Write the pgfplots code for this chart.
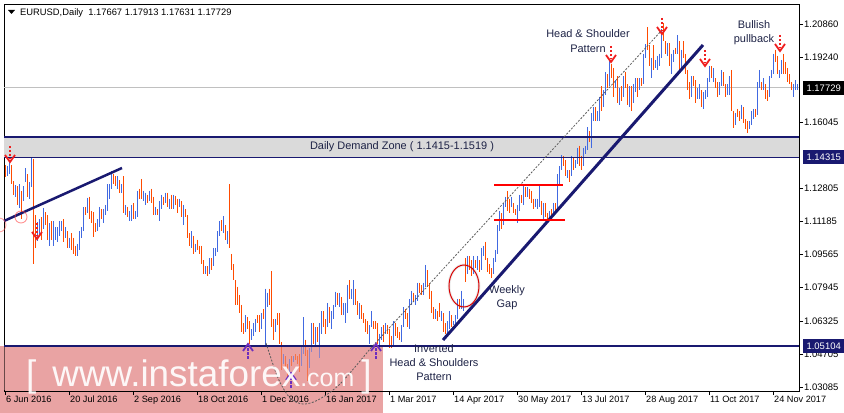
\documentclass[border=0pt]{standalone}
\usepackage{fontspec}
\setmainfont{Liberation Sans}
\usepackage{pgfplots}
\usepackage{pgfplotstable}
\pgfplotsset{compat=1.18}
\definecolor{upc}{RGB}{65,105,225}
\definecolor{dnc}{RGB}{255,75,0}
\definecolor{navy}{RGB}{25,25,112}
\definecolor{zonegray}{RGB}{218,218,218}
\definecolor{pinkw}{RGB}{233,163,163}
\definecolor{arrred}{RGB}{240,30,30}
\definecolor{purp}{RGB}{110,45,190}
\definecolor{annot}{RGB}{30,35,70}
\definecolor{pricegray}{RGB}{192,192,192}
\definecolor{dashg}{RGB}{90,90,90}

\pgfplotstableread{
x h l
1 1.1392 1.1340
2 1.1416 1.1350
5 1.1297 1.1239
7 1.1300 1.1186
9 1.1290 1.1220
10 1.1380 1.1310
12 1.1310 1.1230
13 1.1427 1.1285
16 1.1115 1.1025
17 1.1130 1.1050
19 1.1185 1.1080
22 1.1110 1.1000
24 1.1120 1.1000
25 1.1090 1.1030
26 1.1090 1.1020
27 1.1120 1.1050
28 1.1120 1.1070
30 1.1090 1.1040
32 1.1040 1.0990
36 1.1010 1.0950
37 1.1070 1.0980
38 1.1090 1.1040
39 1.1190 1.1070
41 1.1235 1.1160
46 1.1130 1.1070
47 1.1190 1.1090
49 1.1180 1.1110
50 1.1200 1.1150
51 1.1300 1.1170
52 1.1300 1.1230
53 1.1366 1.1280
56 1.1340 1.1280
58 1.1300 1.1260
60 1.1200 1.1150
62 1.1170 1.1120
63 1.1200 1.1120
65 1.1170 1.1130
66 1.1270 1.1140
69 1.1270 1.1220
70 1.1260 1.1200
72 1.1270 1.1220
75 1.1190 1.1150
77 1.1220 1.1120
78 1.1250 1.1180
80 1.1260 1.1210
82 1.1230 1.1180
84 1.1250 1.1180
87 1.1230 1.1190
89 1.1200 1.1100
93 1.1070 1.0990
95 1.1010 1.0970
100 1.0900 1.0860
102 1.0940 1.0860
104 1.0990 1.0900
105 1.0990 1.0950
106 1.1070 1.0970
107 1.1120 1.1050
109 1.1145 1.1060
111 1.1070 1.1010
120 1.0660 1.0580
123 1.0590 1.0540
124 1.0620 1.0560
125 1.0640 1.0580
128 1.0670 1.0590
130 1.0790 1.0505
131 1.0770 1.0700
135 1.0640 1.0580
139 1.0470 1.0420
142 1.0445 1.0380
144 1.0460 1.0430
148 1.0510 1.0410
149 1.0650 1.0470
152 1.0500 1.0400
153 1.0620 1.0480
155 1.0600 1.0510
157 1.0620 1.0450
158 1.0680 1.0570
161 1.0720 1.0600
163 1.0680 1.0590
164 1.0710 1.0640
165 1.0775 1.0700
167 1.0770 1.0700
169 1.0720 1.0660
170 1.0720 1.0620
171 1.0810 1.0670
173 1.0790 1.0740
174 1.0830 1.0710
177 1.0720 1.0640
182 1.0610 1.0520
183 1.0680 1.0600
187 1.0570 1.0495
188 1.0600 1.0540
190 1.0620 1.0570
194 1.0630 1.0510
198 1.0610 1.0530
199 1.0700 1.0600
202 1.0740 1.0590
203 1.0780 1.0710
205 1.0760 1.0710
206 1.0820 1.0730
209 1.0820 1.0760
210 1.0906 1.0800
215 1.0690 1.0640
218 1.0680 1.0630
221 1.0630 1.0570
222 1.0680 1.0590
224 1.0630 1.0610
225 1.0660 1.0600
226 1.0740 1.0640
228 1.0780 1.0690
229 1.0740 1.0680
231 1.0950 1.0860
234 1.0950 1.0860
236 1.0950 1.0880
238 1.0990 1.0880
239 1.1000 1.0950
244 1.0940 1.0860
245 1.0980 1.0920
246 1.1100 1.0960
247 1.1170 1.1070
249 1.1210 1.1100
250 1.1240 1.1190
253 1.1240 1.1190
256 1.1200 1.1110
257 1.1250 1.1170
259 1.1290 1.1200
261 1.1285 1.1240
265 1.1230 1.1190
266 1.1230 1.1180
267 1.1296 1.1190
269 1.1210 1.1130
272 1.1170 1.1120
274 1.1210 1.1150
276 1.1350 1.1180
277 1.1390 1.1300
278 1.1445 1.1370
281 1.1370 1.1330
283 1.1440 1.1340
285 1.1420 1.1380
286 1.1480 1.1400
289 1.1480 1.1390
290 1.1490 1.1450
291 1.1580 1.1470
293 1.1650 1.1480
294 1.1680 1.1610
296 1.1660 1.1610
297 1.1730 1.1610
299 1.1760 1.1680
300 1.1850 1.1740
302 1.1910 1.1780
305 1.1810 1.1770
307 1.1770 1.1690
309 1.1830 1.1730
312 1.1780 1.1680
314 1.1790 1.1700
315 1.1820 1.1750
317 1.1820 1.1760
319 1.1940 1.1790
320 1.1985 1.1920
323 1.1920 1.1820
325 1.1910 1.1870
326 1.1930 1.1860
327 1.1940 1.1880
328 1.2060 1.1920
331 1.1990 1.1930
333 1.1940 1.1840
334 1.1960 1.1900
336 1.2030 1.1940
338 1.1960 1.1870
343 1.1830 1.1730
346 1.1770 1.1720
347 1.1790 1.1720
349 1.1750 1.1670
350 1.1760 1.1720
351 1.1820 1.1730
352 1.1880 1.1800
354 1.1870 1.1800
357 1.1800 1.1740
358 1.1860 1.1780
361 1.1790 1.1740
362 1.1830 1.1740
365 1.1650 1.1590
368 1.1690 1.1620
372 1.1610 1.1570
373 1.1660 1.1590
374 1.1670 1.1620
376 1.1800 1.1640
377 1.1860 1.1770
379 1.1820 1.1760
382 1.1830 1.1730
383 1.1860 1.1820
384 1.1940 1.1840
387 1.1860 1.1820
388 1.1910 1.1840
394 1.1790 1.1730
395 1.1810 1.1760
396 1.1791 1.1763
}\upbars

\pgfplotstableread{
x h l
0 1.1394 1.1336
3 1.1395 1.1300
4 1.1315 1.1250
6 1.1290 1.1200
8 1.1270 1.1130
11 1.1350 1.1240
14 1.1425 1.0912
15 1.1150 1.0990
18 1.1140 1.1030
20 1.1165 1.1100
21 1.1150 1.1030
23 1.1120 1.1030
29 1.1130 1.1020
31 1.1070 1.0990
33 1.1060 1.0980
34 1.1040 1.0960
35 1.1000 1.0952
40 1.1190 1.1150
42 1.1240 1.1130
43 1.1170 1.1110
44 1.1165 1.1045
45 1.1110 1.1065
48 1.1180 1.1130
54 1.1350 1.1300
55 1.1340 1.1290
57 1.1320 1.1260
59 1.1340 1.1160
61 1.1190 1.1140
64 1.1210 1.1130
67 1.1280 1.1230
68 1.1327 1.1230
71 1.1250 1.1210
73 1.1280 1.1210
74 1.1240 1.1150
76 1.1180 1.1150
79 1.1240 1.1200
81 1.1260 1.1190
83 1.1250 1.1180
85 1.1245 1.1200
86 1.1230 1.1160
88 1.1220 1.1140
90 1.1180 1.1140
91 1.1150 1.1040
92 1.1060 1.1000
94 1.1050 1.0960
96 1.1030 1.0980
97 1.1000 1.0960
98 1.1000 1.0910
99 1.0930 1.0860
101 1.0900 1.0852
103 1.0940 1.0880
108 1.1125 1.1070
110 1.1100 1.1030
112 1.1300 1.0990
113 1.0960 1.0880
114 1.0910 1.0830
115 1.0830 1.0710
116 1.0800 1.0710
117 1.0760 1.0670
118 1.0710 1.0580
119 1.0620 1.0570
121 1.0650 1.0590
122 1.0630 1.0518
126 1.0660 1.0620
127 1.0660 1.0580
129 1.0690 1.0640
132 1.0790 1.0710
133 1.0874 1.0600
134 1.0640 1.0540
136 1.0670 1.0610
137 1.0670 1.0520
138 1.0530 1.0390
140 1.0460 1.0390
141 1.0420 1.0352
143 1.0460 1.0410
145 1.0470 1.0440
146 1.0460 1.0420
147 1.0470 1.0380
150 1.0540 1.0460
151 1.0490 1.0340
154 1.0620 1.0520
156 1.0600 1.0530
159 1.0680 1.0600
160 1.0640 1.0570
162 1.0700 1.0620
166 1.0770 1.0710
168 1.0750 1.0660
172 1.0830 1.0740
175 1.0790 1.0710
176 1.0730 1.0660
178 1.0710 1.0640
179 1.0670 1.0620
180 1.0640 1.0580
181 1.0630 1.0570
184 1.0630 1.0590
185 1.0630 1.0590
186 1.0620 1.0520
189 1.0610 1.0530
191 1.0610 1.0570
192 1.0590 1.0500
193 1.0560 1.0500
195 1.0620 1.0560
196 1.0600 1.0550
197 1.0580 1.0540
200 1.0690 1.0640
201 1.0670 1.0600
204 1.0770 1.0730
207 1.0820 1.0770
208 1.0810 1.0760
211 1.0880 1.0800
212 1.0820 1.0740
213 1.0780 1.0670
214 1.0700 1.0640
216 1.0680 1.0630
217 1.0720 1.0650
219 1.0670 1.0580
220 1.0620 1.0570
223 1.0660 1.0600
227 1.0740 1.0690
230 1.0940 1.0821
232 1.0950 1.0880
233 1.0930 1.0850
235 1.0930 1.0890
237 1.0930 1.0870
240 1.1020 1.0930
241 1.0940 1.0870
242 1.0910 1.0860
243 1.0890 1.0840
248 1.1160 1.1080
251 1.1268 1.1170
252 1.1230 1.1160
254 1.1210 1.1160
255 1.1180 1.1150
258 1.1250 1.1210
260 1.1285 1.1240
262 1.1280 1.1230
263 1.1270 1.1210
264 1.1230 1.1180
268 1.1220 1.1150
270 1.1210 1.1140
271 1.1160 1.1119
273 1.1180 1.1140
275 1.1210 1.1160
279 1.1440 1.1390
280 1.1420 1.1340
282 1.1370 1.1310
284 1.1430 1.1370
287 1.1490 1.1390
288 1.1440 1.1370
292 1.1560 1.1510
295 1.1680 1.1610
298 1.1780 1.1660
301 1.1840 1.1770
303 1.1890 1.1820
304 1.1870 1.1730
306 1.1830 1.1700
308 1.1780 1.1710
310 1.1850 1.1770
311 1.1790 1.1690
313 1.1780 1.1660
316 1.1820 1.1730
318 1.1820 1.1780
321 1.2070 1.1960
322 1.1980 1.1880
324 1.1980 1.1860
329 1.2092 1.2000
330 1.2000 1.1940
332 1.1990 1.1880
335 1.1970 1.1940
337 1.2000 1.1860
339 1.2000 1.1920
340 1.1940 1.1840
341 1.1860 1.1760
342 1.1800 1.1720
344 1.1830 1.1780
345 1.1810 1.1700
348 1.1760 1.1680
353 1.1880 1.1820
355 1.1820 1.1770
356 1.1800 1.1730
359 1.1850 1.1780
360 1.1790 1.1730
363 1.1860 1.1660
364 1.1660 1.1575
366 1.1670 1.1630
367 1.1660 1.1610
369 1.1680 1.1600
370 1.1620 1.1570
371 1.1610 1.1553
375 1.1670 1.1630
378 1.1800 1.1760
380 1.1790 1.1720
381 1.1760 1.1710
385 1.1960 1.1900
386 1.1930 1.1840
389 1.1940 1.1840
390 1.1900 1.1840
391 1.1870 1.1800
392 1.1840 1.1790
393 1.1800 1.1760
}\dnbars

\newcommand{\dnarrow}[2]{%
  \draw[arrred, line width=1.8bp, dash pattern=on 2.5bp off 1.5bp] (#1,#2-17) -- (#1,#2-4);
  \draw[arrred, line width=1.8bp, line join=miter] (#1-5,#2-8) -- (#1,#2-1) -- (#1+5,#2-8);
}
\newcommand{\uparrowp}[2]{%
  \draw[purp, line width=1.8bp, dash pattern=on 2.5bp off 1.5bp] (#1,#2+16) -- (#1,#2+4);
  \draw[purp, line width=1.8bp, line join=miter] (#1-5,#2+8) -- (#1,#2+1) -- (#1+5,#2+8);
}

\begin{document}
\begin{tikzpicture}
\useasboundingbox (0,0) rectangle (844bp,413bp);
\begin{scope}[x=1bp,y=-1bp,shift={(0bp,413bp)}]
  \fill[pinkw] (0,346) rectangle (383,413);
\end{scope}
\begin{axis}[
  at={(4bp,22bp)}, anchor=south west,
  width=795bp, height=387bp, scale only axis,
  xmin=-0.5, xmax=397, ymin=1.0289, ymax=1.2183,
  axis line style={black, line width=0.8bp},
  tick align=outside, major tick length=4bp,
  tick style={black, line width=0.6bp},
  xtick={0,32,...,384},
  xticklabels={6 Jun 2016,20 Jul 2016,2 Sep 2016,18 Oct 2016,1 Dec 2016,16 Jan 2017,1 Mar 2017,14 Apr 2017,30 May 2017,13 Jul 2017,28 Aug 2017,11 Oct 2017,24 Nov 2017},
  xtick pos=left,
  ytick={1.03085,1.04705,1.06325,1.07945,1.09565,1.11185,1.12805,1.16045,1.19240,1.20860},
  yticklabels={1.03085,1.04705,1.06325,1.07945,1.09565,1.11185,1.12805,1.16045,1.19240,1.20860},
  ytick pos=right, yticklabel pos=right,
  xticklabel style={font=\fontsize{9.2}{10}\selectfont, anchor=north west, inner sep=1bp},
  yticklabel style={font=\fontsize{9.5}{10}\selectfont, anchor=west, inner sep=1bp},
  clip=false,
]
\fill[zonegray] (axis cs:-0.5,1.14315) rectangle (axis cs:397,1.1530);
\draw[pricegray, line width=0.8bp] (axis cs:-0.5,1.17729) -- (axis cs:397,1.17729);
\addplot[forget plot, draw=none, mark=none,
  error bars/.cd, y dir=minus, y explicit, error mark=none,
  error bar style={draw=upc, line width=1bp, solid}]
  table[x=x, y=h, y error minus expr=\thisrow{h}-\thisrow{l}] {\upbars};
\addplot[forget plot, draw=none, mark=none,
  error bars/.cd, y dir=minus, y explicit, error mark=none,
  error bar style={draw=dnc, line width=1bp, solid}]
  table[x=x, y=h, y error minus expr=\thisrow{h}-\thisrow{l}] {\dnbars};
\draw[navy, line width=2bp] (axis cs:-0.5,1.1530) -- (axis cs:397,1.1530);
\draw[navy, line width=1.5bp] (axis cs:-0.5,1.14315) -- (axis cs:397,1.14315);
\draw[navy, line width=2bp] (axis cs:-0.5,1.05104) -- (axis cs:397,1.05104);
\end{axis}

\begin{scope}[x=1bp,y=-1bp,shift={(0bp,413bp)}]
  \fill[pinkw, opacity=0.45] (4.5,347) rectangle (383,390.5);
  \draw[navy, line width=2.5bp] (4,221) -- (122,168);
  \draw[navy, line width=3bp] (443,340) -- (703,45);
  \draw[dashg, line width=0.8bp, dash pattern=on 2bp off 1.5bp]
     plot[smooth] coordinates {(266,343) (278,378) (290,398) (303,404) (318,400) (340,384) (370,349)} -- (662,30);
  \draw[red, line width=1.3bp] (494,185) -- (563,185);
  \draw[red, line width=1.3bp] (494,220) -- (565,220);
  \draw[red!70, line width=0.9bp, opacity=0.6] (21,217) circle (6);
  \draw[red!70, line width=0.9bp, opacity=0.5] (-1,225) circle (7);
  \draw[gray, line width=3bp, opacity=0.15] (464,286) ellipse (15 and 21);
  \draw[red!85!black, line width=1bp] (464,286) ellipse (15 and 21);
  \dnarrow{10}{163}
  \dnarrow{37}{240}
  \dnarrow{611}{63}
  \dnarrow{662}{35}
  \dnarrow{705}{67}
  \dnarrow{780}{52}
  \uparrowp{248}{343}
  \uparrowp{291}{372}
  \uparrowp{376}{343}
  \node[text=annot, font=\fontsize{11}{14}\selectfont, align=center] at (402,147) {Daily Demand Zone ( 1.1415-1.1519 )};
  \node[text=annot, font=\fontsize{11}{15}\selectfont, align=center] at (588,41) {Head \& Shoulder\\Pattern};
  \node[text=annot, font=\fontsize{11}{14}\selectfont, align=center] at (754,33) {Bullish\\pullback};
  \node[text=annot, font=\fontsize{11}{14}\selectfont, align=center] at (507,298) {Weekly\\Gap};
  \node[text=annot, font=\fontsize{11}{14}\selectfont, align=center] at (434,363) {Inverted\\Head \& Shoulders\\Pattern};
  \node[anchor=base west, inner sep=0, text=white, opacity=0.92] at (26,387)
    {\fontsize{37}{37}\selectfont [\hspace{16bp}www.instaforex{\fontsize{25}{25}\selectfont .com}\hspace{7bp}]};
  \node[fill=black, text=white, anchor=west, inner sep=0, minimum width=41bp, minimum height=14bp, font=\fontsize{9.5}{10}\selectfont] at (803,88) {1.17729};
  \node[fill=navy, text=white, anchor=west, inner sep=0, minimum width=41bp, minimum height=14bp, font=\fontsize{9.5}{10}\selectfont] at (803,157) {1.14315};
  \node[fill=navy, text=white, anchor=west, inner sep=0, minimum width=41bp, minimum height=14bp, font=\fontsize{9.5}{10}\selectfont] at (803,346) {1.05104};
  \fill (8,10) -- (15,10) -- (11.5,14) -- cycle;
  \node[anchor=base west, inner sep=0, font=\fontsize{9.4}{10}\selectfont] at (20,16) {EURUSD,Daily\ \ 1.17667 1.17913 1.17631 1.17729};
\end{scope}
\end{tikzpicture}
\end{document}
